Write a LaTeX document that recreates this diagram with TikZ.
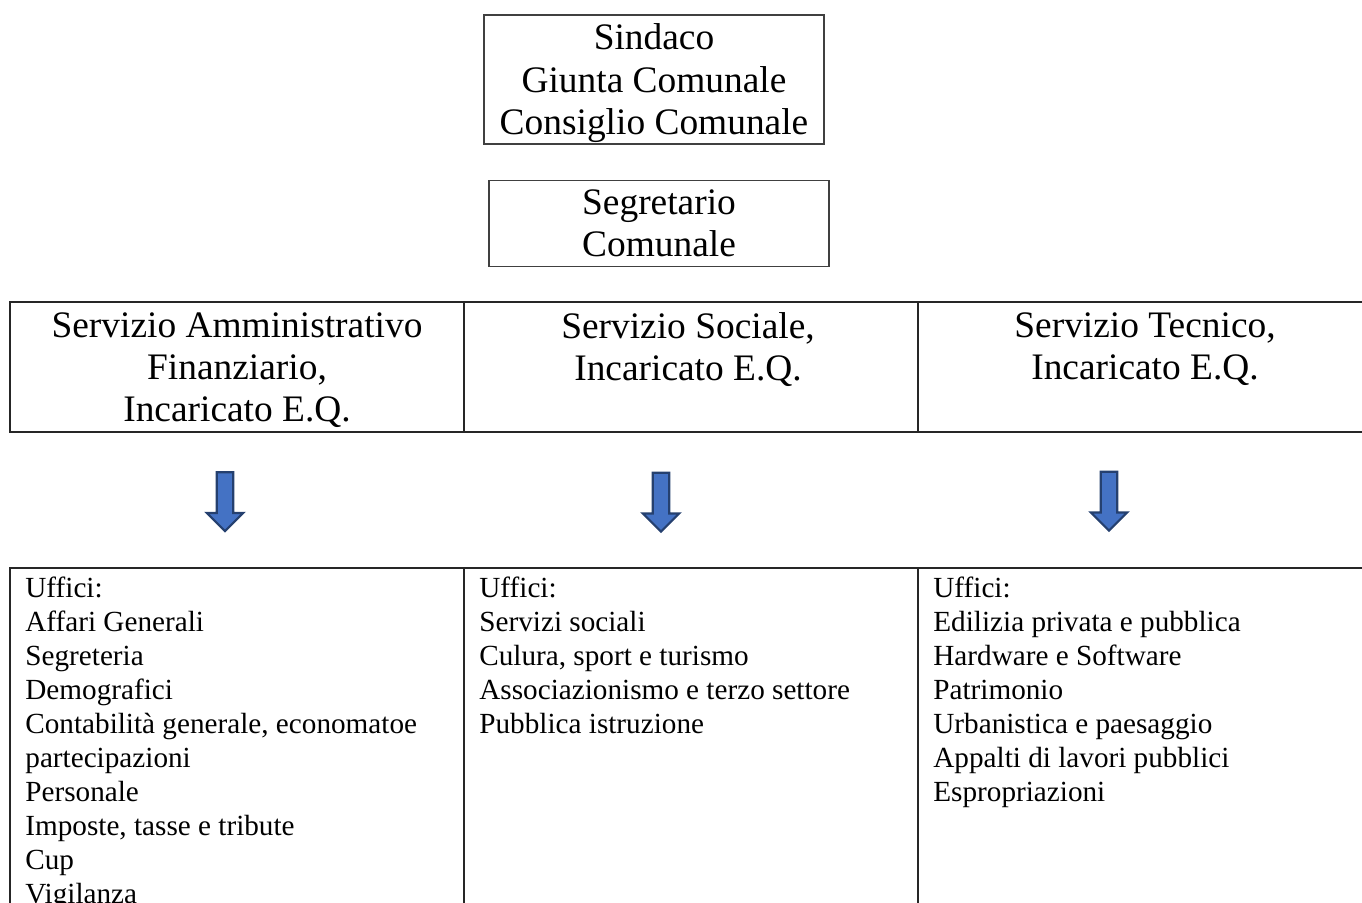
\documentclass[tikz,border=0pt]{standalone}
\usepackage{fontspec}
\setmainfont{Liberation Serif}
\usetikzlibrary{positioning,shapes.arrows,calc}
\definecolor{arrowfill}{HTML}{4472C4}
\definecolor{arrowline}{HTML}{25406F}

\begin{document}
\begin{tikzpicture}[x=0.5pt,y=-0.5pt]

\tikzstyle{organo}=[rectangle,draw=black!75,line width=0.6pt,minimum width=170pt,inner sep=0pt,text depth=0pt,align=center,font=\fontsize{18.7pt}{21.25pt}\selectfont]
\tikzstyle{servizio}=[rectangle,draw=black!85,line width=0.65pt,minimum width=227pt,minimum height=65pt,outer sep=0pt]
\tikzstyle{servtext}=[inner sep=0pt,align=center,font=\fontsize{18.7pt}{21pt}\selectfont]
\tikzstyle{ufficio}=[rectangle,draw=black!85,line width=0.65pt,minimum width=227pt,minimum height=181pt,outer sep=0pt]
\tikzstyle{uffitext}=[inner sep=0pt,align=left,anchor=north west,font=\fontsize{14.6pt}{17pt}\selectfont]
\tikzstyle{freccia}=[single arrow,shape border rotate=270,draw=arrowline,fill=arrowfill,line width=1.1pt,inner sep=3.6pt,minimum width=0pt,minimum height=29.5pt,single arrow head extend=4.9pt,single arrow head indent=0pt]

\useasboundingbox (0,0) rectangle (1362,902);
\clip (0,0) rectangle (1362,902);

% organi di governo
\node [organo,minimum height=64.5pt] (sindaco) at (654,79.5) {Sindaco\\Giunta Comunale\\Consiglio Comunale};
\node [organo,minimum height=43pt,below=17.5pt of sindaco,xshift=2.5pt] (segretario) {Segretario\\Comunale};

% servizi
\node [servizio] (amm) at (237,367) {};
\node [servizio,right=0pt of amm] (soc) {};
\node [servizio,right=0pt of soc] (tec) {};
\node [servtext,below=5.25pt of amm.north] (tamm) {Servizio Amministrativo\\Finanziario,\\Incaricato E.Q.};
\node [servtext,below=5.25pt of soc.north,xshift=-1.5pt] (tsoc) {Servizio Sociale,\\Incaricato E.Q.};
\node [servtext,below=5.25pt of tec.north] (ttec) {Servizio Tecnico,\\Incaricato E.Q.};

% frecce
\node [freccia] (f1) at (225,497.5) {};
\node [freccia] (f2) at (661,498) {};
\node [freccia] (f3) at (1109,497) {};

% uffici
\node [ufficio] (uamm) at (237,749) {};
\node [ufficio,right=0pt of uamm] (usoc) {};
\node [ufficio,right=0pt of usoc] (utec) {};
\node [uffitext] (luamm) at ($(uamm.north west)+(7.5pt,-4.25pt)$) {Uffici:\\Affari Generali\\Segreteria\\Demografici\\Contabilità generale, economatoe\\partecipazioni\\Personale\\Imposte, tasse e tribute\\Cup\\Vigilanza};
\node [uffitext] (lusoc) at ($(usoc.north west)+(7.5pt,-4.25pt)$) {Uffici:\\Servizi sociali\\Culura, sport e turismo\\Associazionismo e terzo settore\\Pubblica istruzione};
\node [uffitext] (lutec) at ($(utec.north west)+(7.5pt,-4.25pt)$) {Uffici:\\Edilizia privata e pubblica\\Hardware e Software\\Patrimonio\\Urbanistica e paesaggio\\Appalti di lavori pubblici\\Espropriazioni};
%\draw [-Stealth] (segretario) -- (soc);
\end{tikzpicture}
\end{document}
